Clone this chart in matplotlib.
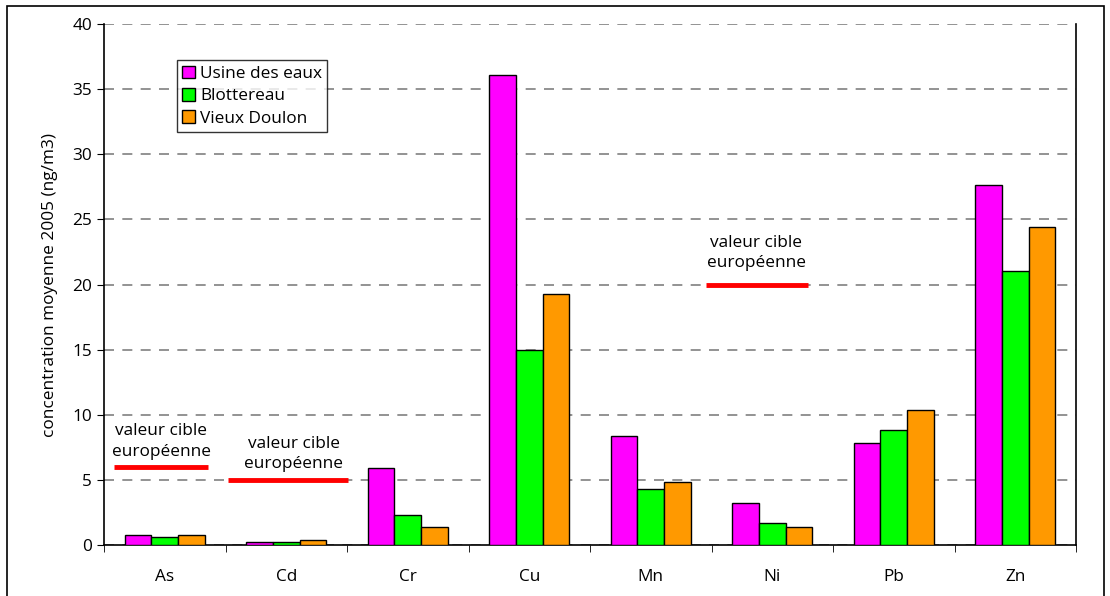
import numpy as np
import matplotlib.pyplot as plt
from matplotlib.patches import Rectangle

plt.rcParams['font.family'] = ['Open Sans', 'DejaVu Sans']

# metals and mean concentrations 2005 (ng/m3)
metaux = ['As', 'Cd', 'Cr', 'Cu', 'Mn', 'Ni', 'Pb', 'Zn']
usine = [0.8, 0.2, 5.9, 36.1, 8.4, 3.2, 7.8, 27.65]
blottereau = [0.65, 0.2, 2.3, 15.0, 4.3, 1.65, 8.8, 21.0]
doulon = [0.8, 0.38, 1.35, 19.3, 4.8, 1.4, 10.35, 24.4]

series = ['Usine des eaux', 'Blottereau', 'Vieux Doulon']
couleurs = ['#FF00FF', '#00FF00', '#FF9900']

# european target values (As, Cd, Ni)
cibles = {'As': 6, 'Cd': 5, 'Ni': 20}

fs = 12.4

fig = plt.figure(figsize=(11.1, 5.96), dpi=100)
ax = fig.add_axes([0.0937, 0.0856, 0.8757, 0.8741])

x = np.arange(len(metaux))
w = 0.22
for i, (vals, nom, c) in enumerate(zip([usine, blottereau, doulon], series, couleurs)):
    ax.bar(x + (i - 1) * w, vals, w, color=c, edgecolor='black', linewidth=1,
           label=nom, zorder=3)

ax.set_xlim(-0.5, len(metaux) - 0.5)
ax.set_ylim(0, 40)
ax.set_yticks(np.arange(0, 41, 5))
ax.set_xticks(x)
ax.set_xticklabels(metaux, fontsize=fs)
ax.set_xticks(np.arange(-0.5, len(metaux), 1), minor=True)
ax.tick_params(axis='x', which='major', length=0, pad=17)
ax.tick_params(axis='x', which='minor', length=5, direction='out')
ax.tick_params(axis='y', length=5, labelsize=fs)
ax.yaxis.grid(True, linestyle=(0, (6, 5)), color='#808080', linewidth=1.2, zorder=0)
ax.spines['top'].set_visible(False)
for s in ['left', 'right', 'bottom']:
    ax.spines[s].set_linewidth(1.2)
ax.set_ylabel('concentration moyenne 2005 (ng/m3)', fontsize=fs, labelpad=10)

# red lines for target values, with label above
lignes = {'As': (-0.42, 0.36, -0.03, 6.55),
          'Cd': (0.52, 1.51, 1.06, 5.6),
          'Ni': (4.455, 5.29, 4.87, 21.0)}
for m, v in cibles.items():
    x0, x1, xt, yt = lignes[m]
    ax.plot([x0, x1], [v, v], color='#FF0000', linewidth=3.5, zorder=4,
            solid_capstyle='butt')
    ax.text(xt, yt, 'valeur cible\neuropéenne', ha='center', va='bottom',
            fontsize=fs, linespacing=1.35, zorder=5)

leg = ax.legend(loc='upper left', bbox_to_anchor=(0.075, 0.93), fontsize=fs,
                frameon=True, fancybox=False, edgecolor='black',
                handlelength=0.75, handleheight=0.75, handletextpad=0.3,
                borderpad=0.3, labelspacing=0.35, borderaxespad=0)
leg.get_frame().set_linewidth(1)
leg.set_zorder(6)

# outer frame
fig.patches.append(Rectangle((0.0063, -0.05), 0.9883, 1.04, transform=fig.transFigure,
                             fill=False, edgecolor='black', linewidth=1.2))

fig.savefig('out.png', dpi=100)
